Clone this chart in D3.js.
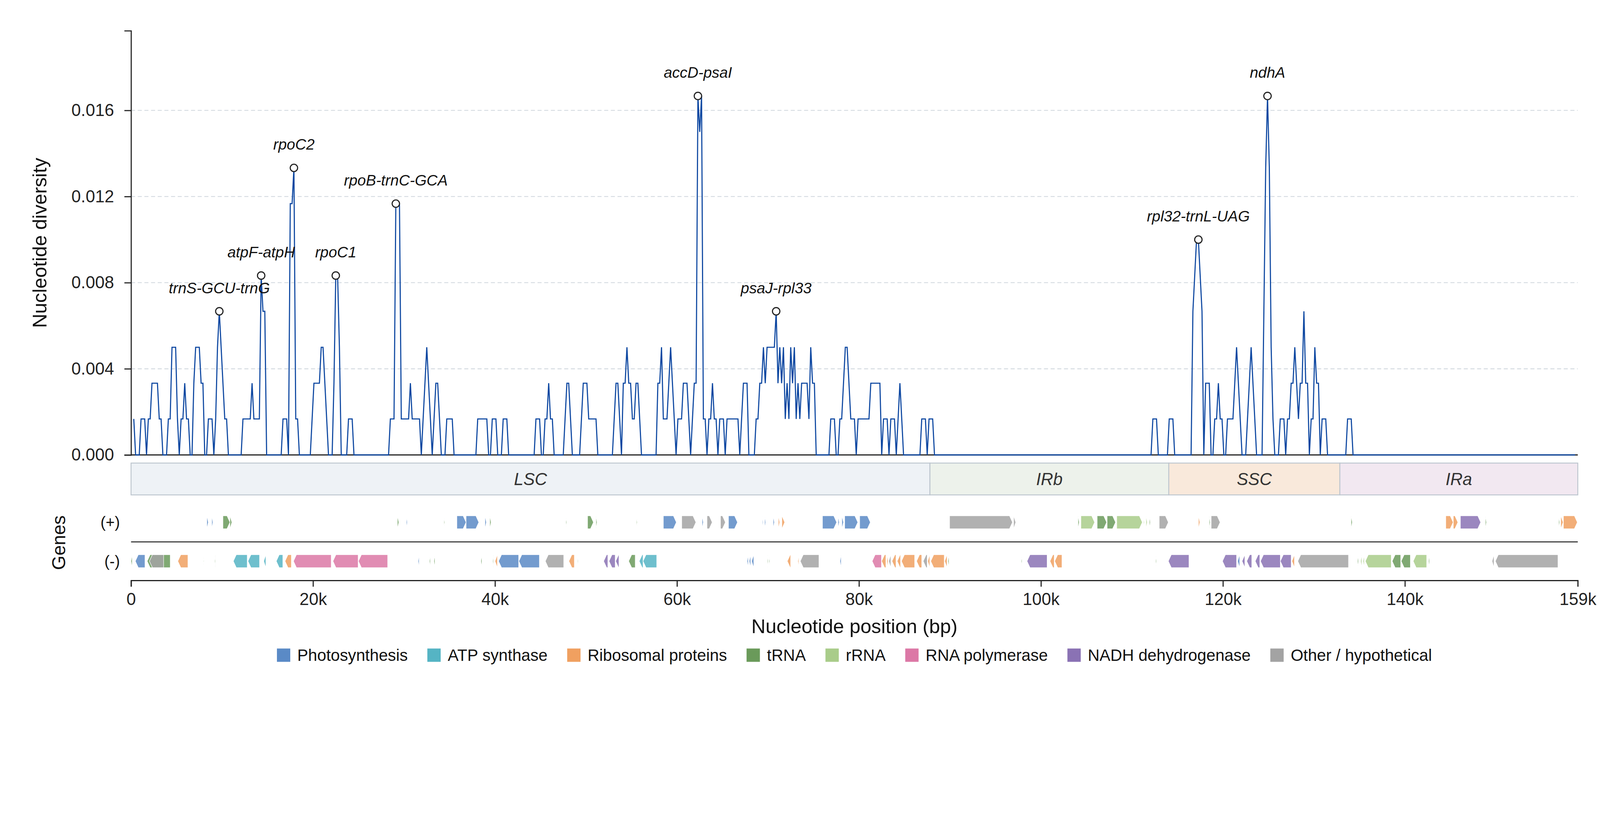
<!DOCTYPE html>
<html><head><meta charset="utf-8">
<script src="https://cdn.jsdelivr.net/npm/d3@7"></script>
<style>
html,body{margin:0;padding:0;background:#fff;overflow:hidden;width:100%;height:100%}
svg{display:block;width:100vw;height:100vh;font-family:"Liberation Sans",Arial,Helvetica,sans-serif}
</style>
</head><body>
<svg id="chart" viewBox="0 0 4322 2102" preserveAspectRatio="xMidYMin meet"></svg>
<script>
// ---------------- DATA ----------------
const genomeLength = 159000;
// sliding window: first window midpoint and step (bp)
const windowStart = 300;
const windowStep = 200;
// nucleotide diversity (Pi) for each window, in order
const piValues = [
.00167,0,0,0,.00167,.00167,.00167,0,.00167,.00167, .00333,.00333,.00333,.00333,.00167,.00167,0,0,0,.00167,
.00167,.005,.005,.005,.00167,0,.00167,.00167,.00333,.00167, .00167,0,0,.00333,.005,.005,.005,.00333,.00333,0,
0,.00167,.00167,.00167,0,.00167,.005,.00667,.005,.00333, .00167,.00167,0,0,0,0,0,0,0,0,
.00167,.00167,.00167,.00167,.00167,.00333,.00167,.00167,.00167,.00167, .00833,.00667,.00667,0,0,0,0,0,0,0,
0,0,.00167,.00167,.00167,0,.01167,.01167,.01333,.00167, .00167,0,0,0,0,0,0,0,.00167,.00333,
.00333,.00333,.00333,.005,.005,.00333,.00167,0,0,0, .00333,.00833,.00833,.005,0,0,0,0,.00167,.00167,
.00167,0,0,0,0,0,0,0,0,0, 0,0,0,0,0,0,0,0,0,0,
0,.00167,.00167,.00167,.01167,.01167,.01167,.00167,.00167,.00167, .00167,.00167,.00333,.00167,.00167,.00167,.00167,.00167,0,.00167,
.00333,.005,.00333,.00167,0,.00167,.00333,.00333,.00167,0, 0,0,.00167,.00167,.00167,.00167,0,0,0,0,
0,0,0,0,0,0,0,0,0,.00167, .00167,.00167,.00167,.00167,.00167,0,0,.00167,.00167,.00167,
0,0,0,.00167,.00167,.00167,0,0,0,0, 0,0,0,0,0,0,0,0,0,0,
0,.00167,.00167,.00167,0,0,.00167,.00167,.00333,.00167, .00167,0,0,0,0,0,0,.00167,.00333,.00333,
.00167,0,0,0,0,0,.00167,.00333,.00333,.00333, .00167,.00167,.00167,.00167,.00167,0,0,0,0,0,
0,0,0,0,.00167,.00333,.00333,.00167,0,.00333, .00333,.005,.00333,.00333,.00167,.00167,.00333,.00333,.00167,0,
0,0,0,0,0,0,0,0,.00333,.00333, .005,.00167,.00167,.00167,.00333,.005,.00333,.00167,0,.00167,
.00167,.00167,.00333,.00333,.00333,.00167,0,.00167,.00333,.00333, .01667,.015,.01667,.00167,.00167,0,.00167,.00167,.00333,.00167,
.00167,0,.00167,.00167,.00167,0,.00167,.00167,.00167,.00167, .00167,.00167,.00167,0,.00167,.00333,.00333,.00333,0,0,
0,0,.00167,.00167,.00333,.00333,.005,.00333,.005,.005, .005,.005,.005,.00667,.00333,.005,.00333,.005,.00167,.00333,
.00167,.005,.00333,.005,.00167,.00333,.00167,.00333,.00333,.00333, .00333,.00167,.005,.00333,.00333,0,0,0,0,0,
0,0,0,.00167,.00167,.00167,0,0,.00167,.00167, .00333,.005,.005,.00333,.00167,.00167,.00167,0,.00167,.00167,
.00167,.00167,.00167,.00167,.00167,.00333,.00333,.00333,.00333,.00333, .00333,0,.00167,.00167,.00167,0,.00167,.00167,.00167,0,
.00167,.00333,.00167,0,0,0,0,0,0,0, 0,0,0,.00167,.00167,.00167,0,.00167,.00167,.00167,
0,0,0,0,0,0,0,0,0,0, 0,0,0,0,0,0,0,0,0,0,
0,0,0,0,0,0,0,0,0,0, 0,0,0,0,0,0,0,0,0,0,
0,0,0,0,0,0,0,0,0,0, 0,0,0,0,0,0,0,0,0,0,
0,0,0,0,0,0,0,0,0,0, 0,0,0,0,0,0,0,0,0,0,
0,0,0,0,0,0,0,0,0,0, 0,0,0,0,0,0,0,0,0,0,
0,0,0,0,0,0,0,0,0,0, 0,0,0,0,0,0,0,0,0,0,
.00167,.00167,.00167,0,0,0,0,0,0,.00167, .00167,.00167,0,0,0,0,0,0,0,0,
0,0,.00667,.00833,.01,.01,.00833,.00667,0,.00333, .00333,.00333,0,0,.00167,.00167,.00333,.00167,.00167,0,
0,.00167,.00167,.00167,.00167,.00333,.005,.00333,.00167,0, 0,0,.00167,.00333,.005,.00333,.00167,0,0,0,
0,.00667,.01333,.01667,.01333,.005,.00167,0,0,0, .00167,.00167,.00167,0,.00167,.00167,.00333,.00333,.005,.00333,
.00167,.00333,.00333,.00667,.00333,.00333,0,.00167,.00167,.005, .00333,.00333,0,.00167,.00167,.00167,0,0,0,0,
0,0,0,0,0,0,0,.00167,.00167,.00167, 0,0,0,0,0,0,0,0,0,0,
0,0,0,0,0,0,0,0,0,0, 0,0,0,0,0,0,0,0,0,0,
0,0,0,0,0,0,0,0,0,0, 0,0,0,0,0,0,0,0,0,0,
0,0,0,0,0,0,0,0,0,0, 0,0,0,0,0,0,0,0,0,0,
0,0,0,0,0,0,0,0,0,0, 0,0,0,0,0,0,0,0,0,0,
0,0,0,0,0,0,0,0,0,0, 0,0,0,0,0,0,0,0,0,0,
0,0,0,0,0,0,0,0,0,0, 0,0,0
];

// highlighted hotspots
const peakNames = ["trnS-GCU-trnG","atpF-atpH","rpoC2","rpoC1","rpoB-trnC-GCA","accD-psaI","psaJ-rpl33","rpl32-trnL-UAG","ndhA"];
const peakPositions = [9700,14300,17900,22500,29100,62300,70900,117300,124900];

const yTickValues = [0,0.004,0.008,0.012,0.016];
const yMax = 0.0197;
const xTickValues = [0,20000,40000,60000,80000,100000,120000,140000,159000];

const regionNames = ["LSC","IRb","SSC","IRa"];
const regionBounds = [0,87800,114050,132850,159000];
const regionColors = ["#eef2f6","#edf2eb","#f9e9db","#f2e8f1"];

const categoryKeys   = ["P","A","R","T","r","H","N","O"];
const categoryNames  = ["Photosynthesis","ATP synthase","Ribosomal proteins","tRNA","rRNA","RNA polymerase","NADH dehydrogenase","Other / hypothetical"];
const categoryColors = ["#5a8ac6","#55b4c4","#f0a060","#6a9a5a","#a9cc8a","#dc78a6","#8a72b4","#a3a3a3"];

// genes on the (+) strand: [start, end, category]
const genesPlus = [
[8330,8490,"P"],[8870,9000,"P"],[10100,10870,"T"],[10870,11080,"T"],[29270,29430,"T"],[30260,30360,"P"],
[34380,34460,"T"],[35810,36820,"P"],[36820,38220,"P"],[38900,39050,"P"],[39430,39570,"T"],[47780,47860,"T"],
[50170,50820,"T"],[51100,51210,"T"],[55540,55620,"T"],[58500,59930,"P"],[60520,62080,"O"],[62760,62890,"P"],
[63300,63870,"O"],[64780,65320,"O"],[65660,66650,"P"],[69400,69480,"P"],[69630,69740,"P"],[70570,70700,"P"],
[71140,71290,"R"],[71530,71840,"R"],[75990,77550,"P"],[77700,77830,"P"],[78120,78300,"P"],[78430,79870,"P"],
[80080,81250,"P"],[89960,96870,"O"],[97000,97230,"O"],[104080,104210,"T"],[104390,105900,"r"],[106180,107220,"T"],
[107270,108200,"T"],[108330,111140,"r"],[111270,111350,"r"],[111550,111680,"r"],[111920,112020,"T"],[113000,114000,"O"],
[117310,117470,"R"],[118500,118600,"T"],[118710,119690,"O"],[134090,134220,"T"],[144490,145300,"R"],[145320,145820,"R"],
[146100,148330,"N"],[148850,148960,"T"],[156900,157000,"T"],[157130,157390,"R"],[157420,158950,"R"]
];
// genes on the (-) strand: [start, end, category]
const genesMinus = [
[0,130,"T"],[470,1530,"P"],[1770,4310,"T"],[2020,3580,"O"],[5140,6250,"R"],[7970,8020,"T"],[9190,9260,"T"],
[11240,12770,"A"],[12850,14120,"A"],[14580,14820,"A"],[15960,16680,"A"],[16920,17620,"R"],[17850,22000,"H"],
[22190,24960,"H"],[24990,28200,"H"],[31550,31660,"P"],[32800,32900,"T"],[33290,33400,"T"],[38450,38560,"T"],
[39740,39820,"T"],[40000,40260,"R"],[40390,42600,"P"],[42620,44880,"P"],[45530,47550,"O"],[48120,48720,"R"],
[49060,49130,"T"],[51940,52400,"N"],[52530,53210,"N"],[53260,53620,"N"],[54690,55410,"T"],[55850,56270,"A"],
[56270,57770,"A"],[67710,67840,"P"],[67940,68100,"P"],[68200,68440,"P"],[69920,70000,"T"],[70120,70200,"T"],
[72120,72490,"R"],[73290,73390,"R"],[73550,75600,"O"],[77910,78040,"P"],[81450,82470,"H"],[82490,82960,"R"],
[83060,83190,"R"],[83270,83500,"O"],[83630,84070,"R"],[84200,84570,"R"],[84670,86120,"R"],[86330,86900,"R"],
[87060,87500,"O"],[87550,87780,"R"],[87890,89370,"R"],[89420,89680,"R"],[89780,89890,"T"],[97850,97930,"T"],
[98470,100680,"N"],[100990,101460,"R"],[101510,102310,"R"],[112610,112690,"T"],[114000,116270,"N"],
[119950,121500,"N"],[121610,121840,"P"],[122100,122410,"N"],[122620,123170,"N"],[123550,124050,"N"],
[124130,126310,"N"],[126310,127500,"N"],[127580,127860,"R"],[128230,133800,"O"],[134790,134890,"T"],
[135130,135260,"r"],[135410,135540,"r"],[135650,138500,"r"],[138600,139540,"T"],[139590,140600,"T"],
[140910,142390,"r"],[142600,142700,"T"],[149580,149790,"O"],[149940,156820,"O"]
];

// ---------------- DRAW ----------------
const svg = d3.select("#chart");
const L = 354, R = 4262, T = 83, B = 1229;
const x = d3.scaleLinear().domain([0, genomeLength]).range([L, R]);
const y = d3.scaleLinear().domain([0, yMax]).range([B, T]);
const colorOf = d3.scaleOrdinal().domain(categoryKeys).range(categoryColors);
const ink = "#222";

// gridlines
svg.append("g").selectAll("line").data(yTickValues.filter(v => v > 0)).join("line")
  .attr("x1", L).attr("x2", R).attr("y1", d => y(d)).attr("y2", d => y(d))
  .attr("stroke", "#d5dbe1").attr("stroke-width", 2.5).attr("stroke-dasharray", "11,7");

// y axis
const yAxis = svg.append("g").attr("transform", `translate(${L},0)`)
  .call(d3.axisLeft(y).tickValues(yTickValues).tickFormat(d3.format(".3f")).tickSize(18).tickPadding(28));
yAxis.select(".domain").attr("stroke", ink).attr("stroke-width", 3);
yAxis.selectAll(".tick line").attr("stroke", ink).attr("stroke-width", 3);
yAxis.selectAll(".tick text").attr("font-size", 46).attr("fill", ink).attr("font-family", "Liberation Sans, Arial, sans-serif");

// baseline
svg.append("line").attr("x1", L).attr("x2", R).attr("y1", y(0)).attr("y2", y(0))
  .attr("stroke", ink).attr("stroke-width", 3);

// diversity line
const line = d3.line().x((d, i) => x(windowStart + i * windowStep)).y(d => y(d));
svg.append("path").datum(piValues).attr("d", line)
  .attr("fill", "none").attr("stroke", "#0d47a1").attr("stroke-width", 3).attr("stroke-linejoin", "miter");

// peak markers + labels
const peaks = peakNames.map((n, k) => {
  const idx = Math.round((peakPositions[k] - windowStart) / windowStep);
  return { name: n, pos: peakPositions[k], val: piValues[idx] };
});
svg.append("g").selectAll("circle").data(peaks).join("circle")
  .attr("cx", d => x(d.pos)).attr("cy", d => y(d.val)).attr("r", 10)
  .attr("fill", "#fff").attr("stroke", ink).attr("stroke-width", 3);
svg.append("g").selectAll("text").data(peaks).join("text")
  .attr("x", d => x(d.pos)).attr("y", d => y(d.val) - 49)
  .attr("text-anchor", "middle").attr("font-size", 41).attr("font-style", "italic").attr("fill", "#111")
  .text(d => d.name);

// y axis title
svg.append("text").attr("transform", `translate(107,${(T + B) / 2}) rotate(-90)`)
  .attr("text-anchor", "middle").attr("dy", "0.35em").attr("font-size", 53).attr("fill", "#111")
  .text("Nucleotide diversity");

// region band
const bandTop = 1251, bandH = 86;
const regions = regionNames.map((n, k) => ({ name: n, s: regionBounds[k], e: regionBounds[k + 1], c: regionColors[k] }));
svg.append("g").selectAll("rect").data(regions).join("rect")
  .attr("x", d => x(d.s)).attr("width", d => x(d.e) - x(d.s)).attr("y", bandTop).attr("height", bandH)
  .attr("fill", d => d.c).attr("stroke", "#bcc5ce").attr("stroke-width", 2.5);
svg.append("g").selectAll("text").data(regions).join("text")
  .attr("x", d => (x(d.s) + x(d.e)) / 2).attr("y", bandTop + bandH / 2).attr("dy", "0.35em")
  .attr("text-anchor", "middle").attr("font-size", 46).attr("font-style", "italic").attr("fill", "#333")
  .text(d => d.name);

// gene tracks
const rowPlus = 1411, rowMinus = 1516, gH = 35, head = 8;
function genePath(g, strand, cy) {
  const x1 = x(g[0]), x2 = x(g[1]);
  const w = Math.max(x2 - x1, 1.5);
  const h = Math.min(head, w);
  const t = cy - gH / 2, b = cy + gH / 2;
  if (strand > 0) {
    return `M${x1},${t}L${x1 + w - h},${t}L${x1 + w},${cy}L${x1 + w - h},${b}L${x1},${b}Z`;
  }
  return `M${x1 + w},${t}L${x1 + h},${t}L${x1},${cy}L${x1 + h},${b}L${x1 + w},${b}Z`;
}
svg.append("g").selectAll("path").data(genesPlus).join("path")
  .attr("d", d => genePath(d, 1, rowPlus))
  .attr("fill", d => colorOf(d[2])).attr("fill-opacity", 0.85).attr("stroke", "#fff").attr("stroke-width", 1.2);
svg.append("g").selectAll("path").data(genesMinus).join("path")
  .attr("d", d => genePath(d, -1, rowMinus))
  .attr("fill", d => colorOf(d[2])).attr("fill-opacity", 0.85).attr("stroke", "#fff").attr("stroke-width", 1.2);

// divider between strands
svg.append("line").attr("x1", L).attr("x2", R).attr("y1", 1464).attr("y2", 1464)
  .attr("stroke", "#333").attr("stroke-width", 3);

svg.append("text").attr("x", 324).attr("y", rowPlus).attr("dy", "0.35em").attr("text-anchor", "end")
  .attr("font-size", 42).attr("fill", "#111").text("(+)");
svg.append("text").attr("x", 324).attr("y", rowMinus).attr("dy", "0.35em").attr("text-anchor", "end")
  .attr("font-size", 42).attr("fill", "#111").text("(-)");
svg.append("text").attr("transform", `translate(159,1466) rotate(-90)`)
  .attr("text-anchor", "middle").attr("dy", "0.35em").attr("font-size", 50).attr("fill", "#111")
  .text("Genes");

// bottom x axis
const xAxis = svg.append("g").attr("transform", "translate(0,1568)")
  .call(d3.axisBottom(x).tickValues(xTickValues).tickFormat(d3.format("~s")).tickSize(17).tickPadding(17));
xAxis.select(".domain").attr("stroke", ink).attr("stroke-width", 3);
xAxis.selectAll(".tick line").attr("stroke", ink).attr("stroke-width", 3);
xAxis.selectAll(".tick text").attr("font-size", 46).attr("fill", ink).attr("font-family", "Liberation Sans, Arial, sans-serif");

svg.append("text").attr("x", (L + R) / 2).attr("y", 1692).attr("dy", "0.35em")
  .attr("text-anchor", "middle").attr("font-size", 53).attr("fill", "#111")
  .text("Nucleotide position (bp)");

// legend
const legend = svg.append("g");
const items = categoryNames.map((n, k) => ({ name: n, color: categoryColors[k] }));
const lg = legend.selectAll("g").data(items).join("g");
lg.append("rect").attr("width", 36).attr("height", 36).attr("y", -18).attr("fill", d => d.color);
lg.append("text").attr("x", 55).attr("dy", "0.35em").attr("font-size", 44).attr("fill", "#111").text(d => d.name);
let cursor = 0;
lg.each(function () {
  const tw = d3.select(this).select("text").node().getComputedTextLength();
  d3.select(this).attr("transform", `translate(${cursor},1770)`);
  cursor += 55 + tw + 53;
});
const totalW = cursor - 53;
legend.attr("transform", `translate(${(L + R) / 2 - totalW / 2},0)`);
</script>
</body></html>
